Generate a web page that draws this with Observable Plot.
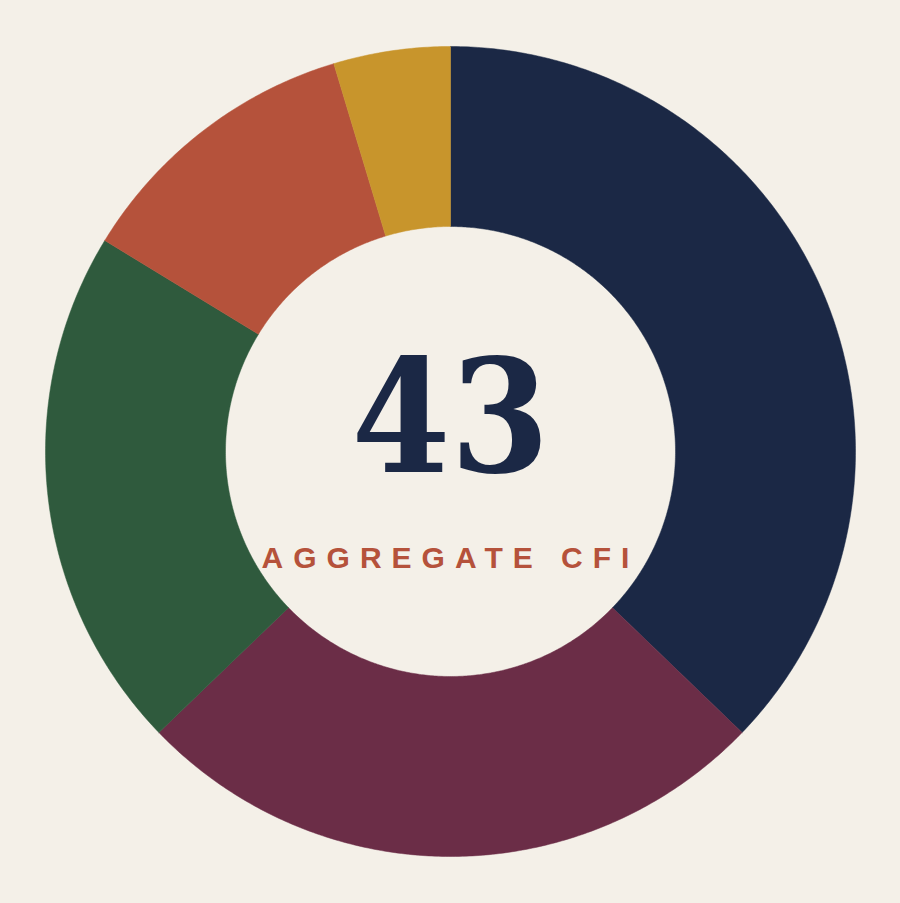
<!DOCTYPE html>
<html>
<head>
<meta charset="utf-8">
<script src="https://cdn.jsdelivr.net/npm/d3@7"></script>
<script src="https://cdn.jsdelivr.net/npm/@observablehq/plot@0.6"></script>
<style>
  html, body { margin: 0; padding: 0; background: #f4f0e8; }
  #chart { width: 900px; height: 903px; }
</style>
</head>
<body>
<div id="chart"></div>
<script>
const categories = ["A", "B", "C", "D", "E"];
const values = [16, 11, 9, 5, 2];
const colors = ["#1b2845", "#6b2d47", "#2f5a3d", "#b5523b", "#c8952c"];
const centerValue = "43";
const centerLabel = "AGGREGATE CFI";

const W = 900, H = 903;
const cx = 450, cy = 451, rOuter = 405, rInner = 225;

const pie = d3.pie().sort(null).value(d => d.value);
const arcs = pie(categories.map((c, i) => ({category: c, value: values[i]})));

// Build slice outlines (in pixel-space data units) from the pie angles
const pts = [];
for (const a of arcs) {
  const n = Math.max(8, Math.ceil((a.endAngle - a.startAngle) * 120));
  const ring = [];
  for (let k = 0; k <= n; k++) {
    const t = a.startAngle + (a.endAngle - a.startAngle) * k / n;
    ring.push([cx + rOuter * Math.sin(t), cy - rOuter * Math.cos(t)]);
  }
  for (let k = n; k >= 0; k--) {
    const t = a.startAngle + (a.endAngle - a.startAngle) * k / n;
    ring.push([cx + rInner * Math.sin(t), cy - rInner * Math.cos(t)]);
  }
  ring.push(ring[0]);
  for (const [x, y] of ring) pts.push({category: a.data.category, x, y});
}

const chart = Plot.plot({
  width: W,
  height: H,
  margin: 0,
  style: {background: "#f4f0e8"},
  x: {domain: [0, W], range: [0, W], axis: null},
  y: {domain: [0, H], range: [0, H], axis: null},
  color: {domain: categories, range: colors},
  marks: [
    Plot.line(pts, {x: "x", y: "y", z: "category", fill: "category", stroke: "category", strokeWidth: 0.5, curve: "linear"}),
    Plot.text([centerValue], {
      x: () => cx, y: () => 471, text: d => d,
      fontFamily: "DejaVu Serif", fontWeight: "bold", fontSize: 158,
      fill: "#1b2845", textAnchor: "middle", lineAnchor: "bottom",
      className: "center-value"
    }),
    Plot.text([centerLabel], {
      x: () => 450, y: () => 567, text: d => d,
      fontFamily: "Liberation Sans", fontWeight: "bold", fontSize: 30,
      fill: "#b5523b", textAnchor: "middle", lineAnchor: "bottom",
      className: "center-label"
    })
  ]
});
d3.select(chart).selectAll(".center-value text").style("font-stretch", "condensed");
d3.select(chart).selectAll(".center-label text").attr("letter-spacing", "10px");
document.getElementById("chart").append(chart);
</script>
</body>
</html>
